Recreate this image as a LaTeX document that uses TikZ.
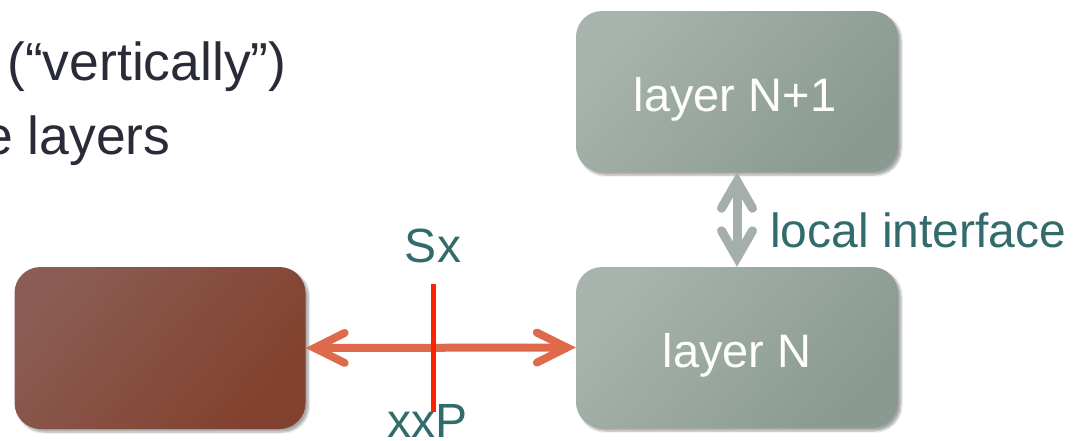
\documentclass[tikz,border=0pt]{standalone}
\usepackage{fontspec}
\setmainfont{Liberation Sans}
\usetikzlibrary{arrows.meta,shadows.blur}
\definecolor{tealtx}{HTML}{326B6B}
\definecolor{darktext}{HTML}{2A2B38}
\definecolor{arrorange}{HTML}{DE6A4B}
\definecolor{redline}{HTML}{FF2200}
\definecolor{grayarrow}{HTML}{A3AFA8}
\definecolor{grayA}{HTML}{A7B3AC}
\definecolor{grayB}{HTML}{A0ADA5}
\definecolor{grayC}{HTML}{8A9A90}
\definecolor{brownA}{HTML}{8B5C53}
\definecolor{brownB}{HTML}{8C5548}
\definecolor{brownC}{HTML}{82412E}
\tikzset{
  layerbox/.style={rounded corners=26pt, minimum width=322pt, minimum height=161pt,
    inner sep=0pt, top color=grayA, middle color=grayB, bottom color=grayC, shading angle=50,
    blur shadow={shadow xshift=3pt, shadow yshift=-3pt, shadow blur steps=6, shadow opacity=35}},
  peerbox/.style={rounded corners=26pt, minimum width=291pt, minimum height=162pt,
    inner sep=0pt, top color=brownA, middle color=brownB, bottom color=brownC, shading angle=50,
    blur shadow={shadow xshift=3pt, shadow yshift=-3pt, shadow blur steps=6, shadow opacity=35}},
  boxlabel/.style={text=white, font=\fontsize{47pt}{50pt}\selectfont, inner sep=0pt, anchor=base},
  tealtext/.style={text=tealtx, font=\fontsize{48pt}{50pt}\selectfont, inner sep=0pt},
  bodytext/.style={text=darktext, font=\fontsize{53.5pt}{56pt}\selectfont, inner sep=0pt, anchor=base west},
  peerarrow/.style={draw=arrorange, line width=8pt,
    {Straight Barb[length=30pt, width=30pt, line cap=round, line join=miter]}-{Straight Barb[length=30pt, width=30pt, line cap=round, line join=miter]}},
  localarrow/.style={draw=grayarrow, line width=9pt,
    {Straight Barb[length=27pt, width=31pt, line cap=round, line join=miter]}-{Straight Barb[length=27pt, width=31pt, line cap=round, line join=miter]}},
  cutline/.style={draw=redline, line width=5pt}
}
\begin{document}
\begin{tikzpicture}[x=1pt, y=-1pt]
\useasboundingbox (0,0) rectangle (1082,440);
% body text (cut at left edge)
\node[bodytext] (t1) at (7,80) {(“vertically”)};
\node[bodytext] (t2) at (-17,154) {e layers};
% boxes
\node[layerbox] (upper) at (737,91.5) {};
\node[layerbox] (lower) at (737,347.5) {};
\node[peerbox] (peer) at (160,348) {};
\node[boxlabel] (lu) at (735,111) {layer N+1};
\node[boxlabel] (ll) at (737,367) {layer N};
% arrows
\draw[localarrow] (upper.south) -- (lower.north);
\node[tealtext, anchor=base west] (li) at (770,247) {local interface};
\draw[peerarrow] (peer.east) -- (lower.west);
\coordinate (rtop) at (433,284);
\coordinate (rbot) at (433,412);
\draw[cutline] (rtop) -- (rbot);
\node[tealtext, anchor=base] (sx) at (433,262) {Sx};
\node[tealtext, anchor=base] (xxp) at (428,437) {xxP};
\end{tikzpicture}
\end{document}
